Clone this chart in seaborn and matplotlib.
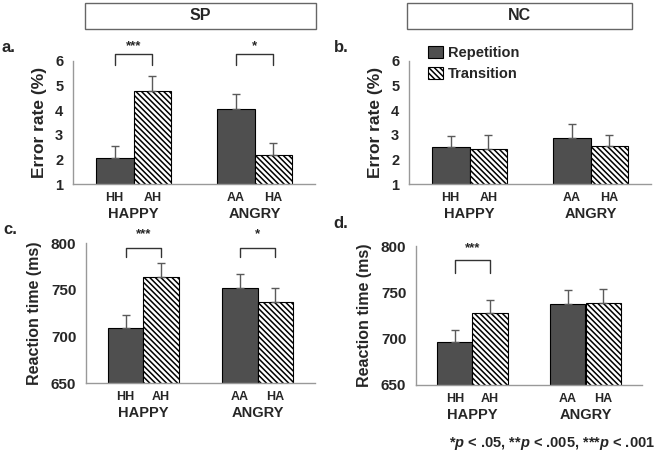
import numpy as np
import pandas as pd
import matplotlib
matplotlib.use("Agg")
import matplotlib.pyplot as plt
import seaborn as sns
from matplotlib.patches import Patch, Rectangle
from matplotlib.transforms import ScaledTranslation

# order of every value list: HAPPY-Repetition, HAPPY-Transition, ANGRY-Repetition, ANGRY-Transition
groups = ["HAPPY", "ANGRY"]
conditions = ["Repetition", "Transition"]
pair_labels = ["HH", "AH", "AA", "HA"]

sp_error = [2.04, 4.80, 4.04, 2.17]
sp_error_se = [0.50, 0.58, 0.60, 0.51]
nc_error = [2.51, 2.44, 2.86, 2.55]
nc_error_se = [0.45, 0.55, 0.59, 0.46]

sp_rt = [708.9, 763.2, 751.8, 736.8]
sp_rt_se = [13.5, 15.4, 15.2, 15.3]
nc_rt = [695.9, 727.5, 737.5, 738.6]
nc_rt_se = [13.7, 14.7, 15.1, 15.1]

# significance: (group index, stars)
sp_error_sig = [(0, "***"), (1, "*")]
sp_rt_sig = [(0, "***"), (1, "*")]
nc_rt_sig = [(0, "***")]

HATCH = "\\\\\\\\\\\\"

sns.set_theme(style="white")
plt.rcParams["font.family"] = ["Liberation Sans", "DejaVu Sans"]
plt.rcParams["font.weight"] = "bold"
plt.rcParams["mathtext.fontset"] = "custom"
plt.rcParams["mathtext.it"] = "Liberation Sans:italic:bold"
plt.rcParams["mathtext.rm"] = "Liberation Sans:bold"
plt.rcParams["hatch.linewidth"] = 1.1

W, H = 660, 457
fig = plt.figure(figsize=(W / 100, H / 100), dpi=100)


def px_axes(x0, x1, ytop, ybot):
    return fig.add_axes([x0 / W, 1 - ybot / H, (x1 - x0) / W, (ybot - ytop) / H])


def draw_panel(ax, values, ses, ylim, yticks, ylabel, label_size, tick_size,
               sig=None, sig_y=None):
    df = pd.DataFrame({
        "group": [g for g in groups for _ in conditions],
        "condition": [c for _ in groups for c in conditions],
        "value": values,
    })
    sns.barplot(data=df, x="group", y="value", hue="condition", order=groups,
                hue_order=conditions, palette=["#4f4f4f", "white"],
                edgecolor="black", linewidth=0.8, width=0.62, errorbar=None,
                legend=False, ax=ax)
    centers = {}
    bar_conts = list(ax.containers)
    for ci, cont in enumerate(bar_conts):
        for gi, bar in enumerate(cont):
            idx = gi * 2 + ci
            if ci == 1:
                bar.set_hatch(HATCH)
            cx = bar.get_x() + bar.get_width() / 2
            centers[idx] = cx
            ax.errorbar(cx, values[idx], yerr=[[0], [ses[idx]]], fmt="none",
                        ecolor="#5a5a5a", elinewidth=1, capsize=3, capthick=1)
    ax.set_ylim(*ylim)
    ax.set_yticks(yticks)
    ax.set_xlim(-0.5, 1.5)
    ax.set_xticks([-0.5, 0.5, 1.5])
    ax.set_xticklabels([])
    ax.set_xlabel("")
    ax.set_ylabel(ylabel, fontsize=label_size, fontweight="bold", labelpad=6)
    ax.tick_params(axis="y", labelsize=tick_size, length=4, width=1, color="#999999", pad=3)
    ax.tick_params(axis="x", length=4, width=1, color="#999999")
    for lab in ax.get_yticklabels():
        lab.set_fontweight("bold")
    sns.despine(ax=ax)
    for s in ("left", "bottom"):
        ax.spines[s].set_color("#999999")
        ax.spines[s].set_linewidth(1)
    tr = ax.get_xaxis_transform()
    pair_tr = tr + ScaledTranslation(0, -14 / 100, fig.dpi_scale_trans)
    group_tr = tr + ScaledTranslation(0, -30 / 100, fig.dpi_scale_trans)
    for idx, lab in enumerate(pair_labels):
        ax.text(centers[idx], 0, lab, transform=pair_tr, ha="center", va="center",
                fontsize=9, fontweight="bold")
    for gi, g in enumerate(groups):
        ax.text(gi, 0, g, transform=group_tr, ha="center", va="center",
                fontsize=10.5, fontweight="bold")
    if sig:
        top, leg, star = sig_y
        for gi, stars in sig:
            x0, x1 = centers[gi * 2], centers[gi * 2 + 1]
            ax.plot([x0, x0, x1, x1], [leg, top, top, leg], color="#333333",
                    lw=1, clip_on=False)
            ax.text((x0 + x1) / 2, star, stars, ha="center", va="center",
                    fontsize=9.5, fontweight="bold")
    return centers


ax_a = px_axes(73, 315, 61, 184)
ax_b = px_axes(409, 651, 61, 184)
ax_c = px_axes(86, 315, 243, 383)
ax_d = px_axes(416, 642, 246, 385)

draw_panel(ax_a, sp_error, sp_error_se, (1, 6), [1, 2, 3, 4, 5, 6], "Error rate (%)",
           12.5, 10.5, sp_error_sig, (6.28, 5.84, 6.62))
draw_panel(ax_b, nc_error, nc_error_se, (1, 6), [1, 2, 3, 4, 5, 6], "Error rate (%)",
           12.5, 10.5)
draw_panel(ax_c, sp_rt, sp_rt_se, (650, 800), [650, 700, 750, 800], "Reaction time (ms)",
           11.5, 11, sp_rt_sig, (795, 785, 809))
draw_panel(ax_d, nc_rt, nc_rt_se, (650, 800), [650, 700, 750, 800], "Reaction time (ms)",
           11.5, 11, nc_rt_sig, (785, 771, 798))

# legend in panel b
handles = [Patch(facecolor="#4f4f4f", edgecolor="black", lw=0.8),
           Patch(facecolor="white", edgecolor="black", lw=0.8, hatch=HATCH)]
ax_b.legend(handles, conditions, loc="upper left", bbox_to_anchor=(0.0785, 1.125),
            frameon=False, handlelength=1.0, handleheight=0.9, handletextpad=0.35,
            labelspacing=0.5, borderaxespad=0, borderpad=0,
            prop={"weight": "bold", "size": 10.5})

# header boxes
for (x0, x1, name) in [(85, 316, "SP"), (407, 632, "NC")]:
    fig.add_artist(Rectangle((x0 / W, 1 - 29 / H), (x1 - x0) / W, 26 / H,
                             transform=fig.transFigure, fill=False,
                             edgecolor="#666666", lw=1))
    fig.text((x0 + x1) / 2 / W, 1 - 16 / H, name, ha="center", va="center",
             fontsize=11.5, fontweight="bold")

# panel letters
for (x, y, t) in [(2, 48, "a."), (334, 47, "b."), (3, 230, "c."), (333, 224, "d.")]:
    fig.text(x / W, 1 - y / H, t, ha="left", va="center", fontsize=12, fontweight="bold")

fig.text(655 / W, 1 - 443 / H, r"*$p$ < .05, **$p$ < .005, ***$p$ < .001",
         ha="right", va="center", fontsize=10.5, fontweight="bold")

fig.savefig("out.png", dpi=100)
